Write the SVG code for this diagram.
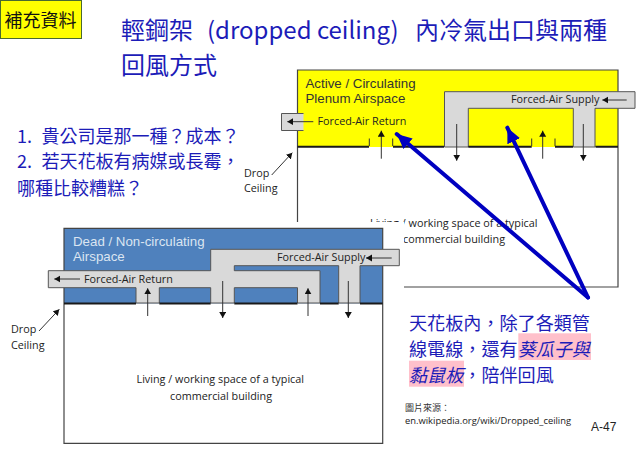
<svg xmlns="http://www.w3.org/2000/svg" width="638" height="452" viewBox="0 0 638 452">
<style>
.cjk{font-family:"Noto Sans CJK TC","Noto Sans CJK SC",sans-serif}
.blue{fill:#1c1cb8}
.lat{font-family:"Open Sans","Noto Sans",sans-serif;fill:#222;font-size:10.800px}
.head{font-family:"Liberation Sans",sans-serif;font-size:13.300px}
.duct{fill:#d9d9d9;stroke:#555;stroke-width:1}
.wall{stroke:#444;stroke-width:1.200;fill:none}
.ceil{stroke:#1a1a1a;stroke-width:2;fill:none}
.tick{stroke:#333;stroke-width:1;fill:none}
.ar{stroke:#333;stroke-width:1;fill:none;marker-end:url(#a)}
.big{stroke:#0000c0;stroke-width:4;stroke-linecap:round;fill:none;marker-end:url(#b)}
</style>
<defs>
<marker id="a" markerUnits="userSpaceOnUse" markerWidth="8" markerHeight="8" refX="6" refY="3.500" orient="auto"><path d="M0 0L6 3.500L0 7Z" fill="#111"/></marker>
<marker id="b" markerUnits="userSpaceOnUse" markerWidth="18" markerHeight="16" refX="15" refY="7" orient="auto"><path d="M0 0L15 7L0 14Z" fill="#0000c0"/></marker>
</defs>
<rect width="638" height="452" fill="#fff"/>
<g id="tag"><rect x="0.500" y="0.500" width="81" height="38" fill="#ffff00" stroke="#4a6a30"/><text x="4.500" y="26.700" class="cjk" font-size="18" fill="#111">補充資料</text></g>
<g id="title" class="cjk blue" font-size="24"><text x="121" y="39">輕鋼架</text><text x="207" y="39">(dropped ceiling)</text><text x="415" y="39">內冷氣出口與兩種</text><text x="121" y="74">回風方式</text></g>
<g id="questions" class="cjk blue" font-size="18"><text x="17" y="142.500">1.</text><text x="41.500" y="142.500">貴公司是那一種？成本？</text><text x="17" y="168">2.</text><text x="41.500" y="168">若天花板有病媒或長霉，</text><text x="17" y="195">哪種比較糟糕？</text></g>
<g id="top-diagram">
<rect x="297.500" y="70" width="320.500" height="77" fill="#ffff00"/>
<path class="wall" d="M297.500 287V70H618V287Z"/>
<path class="duct" d="M303.500 113.500H281.500V130.500H303.500"/>
<path class="duct" d="M444.500 147V91.700H635V108.300H595V147H573.300V108.300H468.300V147Z"/>
<path class="ceil" d="M297.500 146.700H369M393 146.700H444M468.300 146.700H531.700M555 146.700H573M595.500 146.700H618"/>
<path class="tick" d="M369.300 146V138.500M392.700 146V138.500M531.700 146V138.500M555 146V138.500"/>
<text class="head" x="305.500" y="88" fill="#333">Active / Circulating</text><text class="head" x="305.500" y="103" fill="#333">Plenum Airspace</text>
<text class="lat" x="317.500" y="125.200">Forced-Air Return</text>
<text class="lat" x="511" y="103.400">Forced-Air Supply</text>
<text class="lat" x="370" y="226.700">Living / working space of a typical</text>
<text class="lat" x="403" y="243">commercial building</text>
<text class="lat" x="244" y="176.700">Drop</text><text class="lat" x="244" y="192">Ceiling</text>
</g>
<g id="top-connectors">
<path class="ar" d="M313.300 121.700H287.300"/><path class="ar" d="M626.700 100H602.300"/>
<path class="ar" d="M381.300 158.700V130.700"/><path class="ar" d="M542.700 158.700V130.700"/>
<path class="ar" d="M456.700 124V160.700"/><path class="ar" d="M583.300 124V160.700"/>
<path class="ar" d="M271.700 175L292.300 152.700"/>
</g>
<g id="bottom-diagram">
<rect x="48" y="222" width="356" height="224" fill="#fff"/>
<rect x="64" y="228.300" width="318.700" height="75" fill="#4f81bd"/>
<path class="wall" d="M64 443.300V228.300H382.700V443.300Z"/>
<path class="duct" d="M48.300 270.700H210.700V249.300H399.300V265.700H360V303H338.700V265.700H234.300V270.700H320V303H297.500V287.700H234.300V303H210.700V287.700H159.300V303H136V287.700H48.300Z"/>
<path class="ceil" d="M64 303.500H136M159.300 303.500H210.700M234.300 303.500H297.500M320 303.500H338.700M360 303.500H382.700"/>
<text class="head" x="73" y="245.500" fill="#dbe5f1">Dead / Non-circulating</text><text class="head" x="73" y="260.500" fill="#dbe5f1">Airspace</text>
<text class="lat" x="84" y="282.500">Forced-Air Return</text>
<text class="lat" x="277" y="261">Forced-Air Supply</text>
<text class="lat" x="136.500" y="382.700">Living / working space of a typical</text>
<text class="lat" x="170" y="400">commercial building</text>
<text class="lat" x="11" y="333">Drop</text><text class="lat" x="11" y="348.700">Ceiling</text>
</g>
<g id="bottom-connectors">
<path class="ar" d="M80 279H54.300"/><path class="ar" d="M391.700 258H366"/>
<path class="ar" d="M147.700 316V288.300"/><path class="ar" d="M308 316V288.300"/>
<path class="ar" d="M222.700 281V318"/><path class="ar" d="M348.300 281V318"/>
<path class="ar" d="M39 331L59.300 309.300"/>
</g>
<g id="callout-arrows"><path class="big" d="M588 297.500L396.700 134"/><path class="big" d="M588 297.500L507.300 127.700"/></g>
<g id="note" class="cjk" font-size="18.100">
<rect x="518.300" y="333.300" width="72.700" height="26.700" fill="#ffc0cb"/><rect x="409" y="360.700" width="55" height="26" fill="#ffc0cb"/>
<text class="blue" x="409" y="329.500">天花板內，除了各類管</text>
<text class="blue" x="409" y="355.700">線電線，還有<tspan font-style="italic">葵瓜子與</tspan></text>
<text class="blue" x="409" y="382"><tspan font-style="italic">黏鼠板</tspan>，陪伴回風</text>
</g>
<g id="source"><text x="405" y="410.700" class="cjk" font-size="9" fill="#333">圖片來源：</text><text class="lat" x="405" y="424" style="font-size:9.400px">en.wikipedia.org/wiki/Dropped_ceiling</text><text x="591" y="430.700" font-family="Liberation Sans" font-size="12" fill="#222">A-47</text></g>
</svg>
